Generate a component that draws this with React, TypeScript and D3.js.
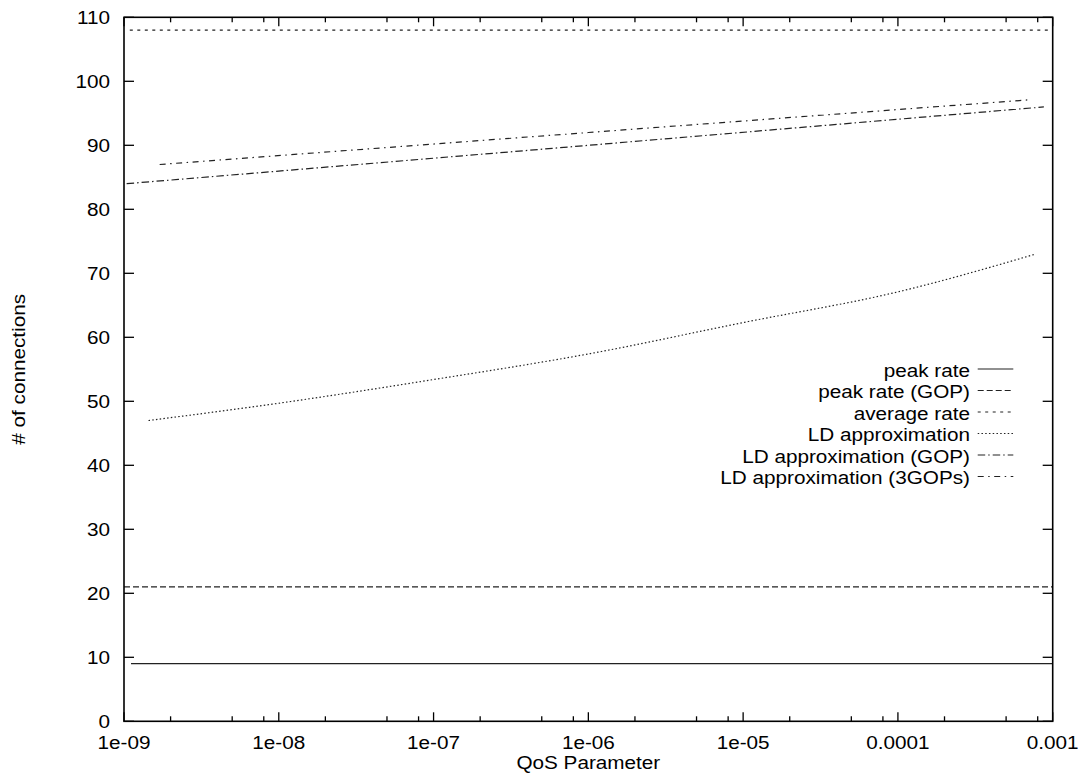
import React from "react";
import * as d3 from "d3";

// Number of admissible connections versus the QoS (loss) parameter.
const peakRate: [number, number][] = [
  [1.11e-9, 9],
  [1e-3, 9],
];
const peakRateGop: [number, number][] = [
  [1e-9, 21],
  [1e-3, 21],
];
const averageRate: [number, number][] = [
  [1.09e-9, 108],
  [1e-3, 108],
];
const ldApprox: [number, number][] = [
  [1.44e-9, 47],
  [1e-8, 49.7],
  [1e-7, 53.4],
  [1e-6, 57.4],
  [1e-5, 62.3],
  [1e-4, 67.1],
  [7.74e-4, 73],
];
const ldApproxGop: [number, number][] = [
  [1.04e-9, 84],
  [1e-6, 90],
  [8.77e-4, 96],
];
const ldApprox3Gops: [number, number][] = [
  [1.7e-9, 87],
  [1e-6, 92],
  [7.0e-4, 97.1],
];

const seriesNames = [
  "peak rate",
  "peak rate (GOP)",
  "average rate",
  "LD approximation",
  "LD approximation (GOP)",
  "LD approximation (3GOPs)",
];
const seriesData = [peakRate, peakRateGop, averageRate, ldApprox, ldApproxGop, ldApprox3Gops];
const dashes = ["none", "6,3", "3,4.5", "1.5,2.25", "7.5,3,1.5,3", "6,4.5,1.5,4.5"];

const xTickValues = [1e-9, 1e-8, 1e-7, 1e-6, 1e-5, 1e-4, 1e-3];
const xTickLabels = ["1e-09", "1e-08", "1e-07", "1e-06", "1e-05", "0.0001", "0.001"];
const xMinorFactors = [2, 5, 8];
const yTickValues = [0, 10, 20, 30, 40, 50, 60, 70, 80, 90, 100, 110];

const W = 1080;
const H = 774;
const left = 124;
const right = 1052.7;
const top = 17.3;
const bottom = 721.3;

const FONT = "'Liberation Sans', Arial, Helvetica, sans-serif";
const FS = 18.5;
const SX = 1.12;

function Label({
  x,
  y,
  anchor,
  children,
  rotate,
}: {
  x: number;
  y: number;
  anchor: "start" | "middle" | "end";
  children: React.ReactNode;
  rotate?: number;
}) {
  const t = rotate
    ? `translate(${x},${y}) rotate(${rotate}) scale(${SX},1)`
    : `translate(${x},${y}) scale(${SX},1)`;
  return (
    <g transform={t}>
      <text x={0} y={0} textAnchor={anchor} fontFamily={FONT} fontSize={FS} fill="#000">
        {children}
      </text>
    </g>
  );
}

export default function App() {
  const x = d3.scaleLog().domain([1e-9, 1e-3]).range([left, right]);
  const y = d3.scaleLinear().domain([0, 110]).range([bottom, top]);

  const line = d3
    .line<[number, number]>()
    .x((d) => x(d[0]))
    .y((d) => y(d[1]))
    .curve(d3.curveMonotoneX);

  const minorTicks: number[] = [];
  for (let i = 0; i < xTickValues.length - 1; i++) {
    for (const f of xMinorFactors) minorTicks.push(xTickValues[i] * f);
  }

  const legendX1 = 977.7;
  const legendX2 = 1013.3;
  const legendTextX = 970;
  const legendRows = seriesNames.map((_, i) => 369 + i * 21.5);

  return (
    <svg
      width={W}
      height={H}
      style={{ position: "absolute", left: 0, top: 0, background: "#fff" }}
    >
      <rect x={0} y={0} width={W} height={H} fill="#fff" />

      {/* y ticks, mirrored on the right */}
      {yTickValues.map((v) => (
        <g key={`y${v}`}>
          <line x1={left} x2={left + 10} y1={y(v)} y2={y(v)} stroke="#000" strokeWidth={1.3} />
          <line x1={right} x2={right - 10} y1={y(v)} y2={y(v)} stroke="#000" strokeWidth={1.3} />
          <Label x={110} y={y(v) + 7} anchor="end">
            {String(v)}
          </Label>
        </g>
      ))}

      {/* x major ticks, mirrored on top */}
      {xTickValues.map((v, i) => (
        <g key={`x${i}`}>
          <line x1={x(v)} x2={x(v)} y1={bottom} y2={bottom - 9} stroke="#000" strokeWidth={1.3} />
          <line x1={x(v)} x2={x(v)} y1={top} y2={top + 9} stroke="#000" strokeWidth={1.3} />
          <Label x={x(v)} y={748.5} anchor="middle">
            {xTickLabels[i]}
          </Label>
        </g>
      ))}
      {minorTicks.map((v, i) => (
        <g key={`m${i}`}>
          <line x1={x(v)} x2={x(v)} y1={bottom} y2={bottom - 5} stroke="#000" strokeWidth={1.3} />
          <line x1={x(v)} x2={x(v)} y1={top} y2={top + 5} stroke="#000" strokeWidth={1.3} />
        </g>
      ))}

      {/* series */}
      {seriesData.map((d, i) => (
        <path
          key={`s${i}`}
          d={line(d) ?? ""}
          fill="none"
          stroke="#222"
          strokeWidth={1.2}
          strokeDasharray={dashes[i]}
        />
      ))}

      {/* legend */}
      {seriesNames.map((name, i) => (
        <g key={`l${i}`}>
          <Label x={legendTextX} y={legendRows[i] + 7.5} anchor="end">
            {name}
          </Label>
          <line
            x1={legendX1}
            x2={legendX2}
            y1={legendRows[i]}
            y2={legendRows[i]}
            stroke="#222"
            strokeWidth={1.2}
            strokeDasharray={dashes[i]}
          />
        </g>
      ))}

      {/* frame */}
      <rect
        x={left}
        y={top}
        width={right - left}
        height={bottom - top}
        fill="none"
        stroke="#000"
        strokeWidth={1.6}
      />

      {/* axis titles */}
      <Label x={(left + right) / 2} y={769} anchor="middle">
        QoS Parameter
      </Label>
      <Label x={25} y={(top + bottom) / 2} anchor="middle" rotate={-90}>
        # of connections
      </Label>
    </svg>
  );
}
